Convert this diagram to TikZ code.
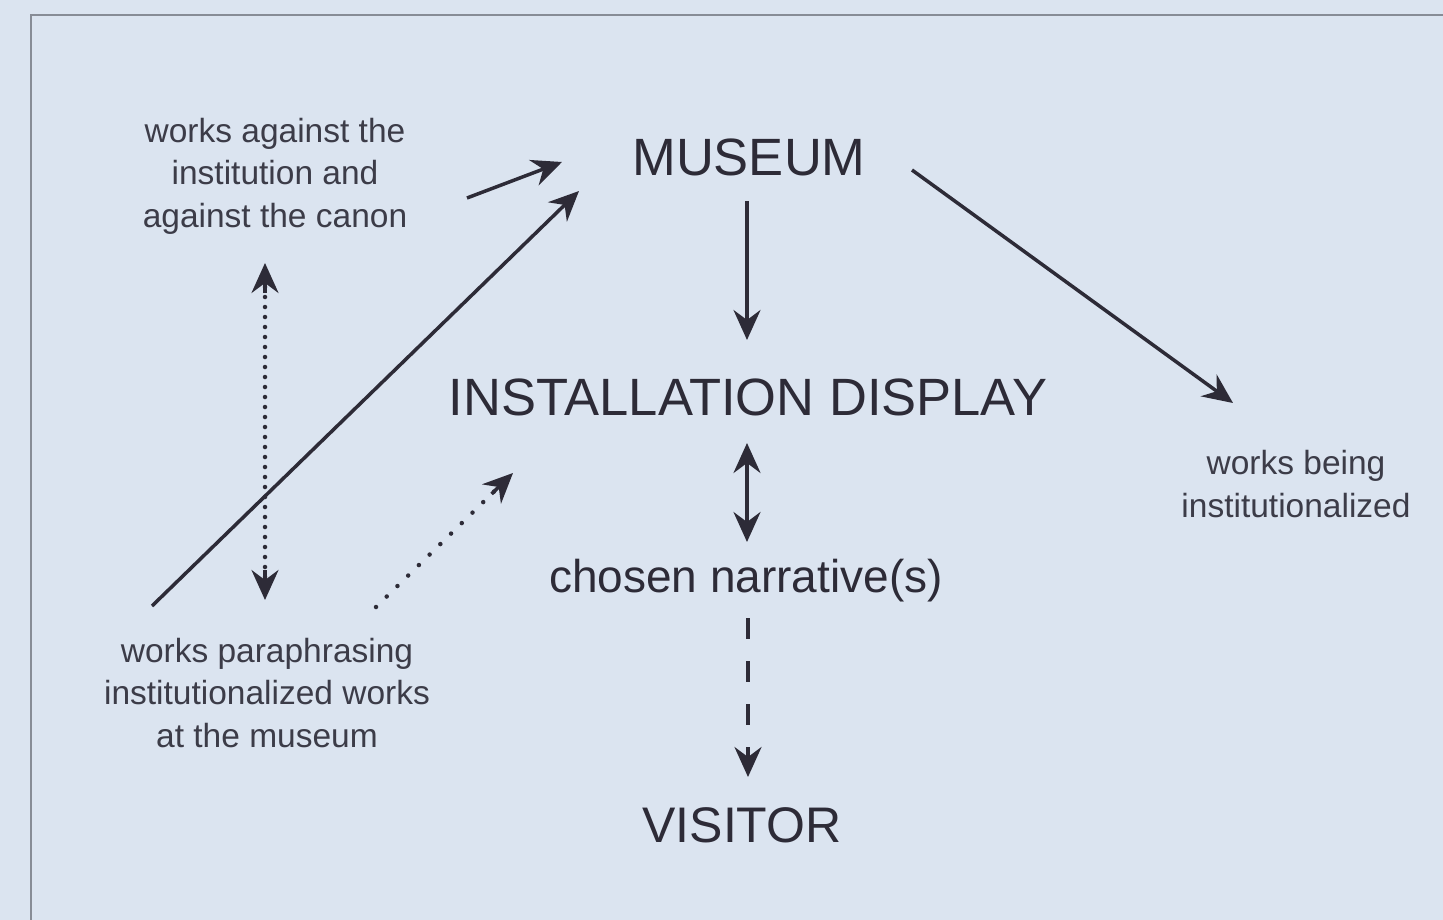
\documentclass[tikz,border=0pt]{standalone}
\usepackage{fontspec}
\setmainfont{Liberation Sans}
\usetikzlibrary{arrows.meta,calc}
\definecolor{bgblue}{RGB}{219,228,240}
\definecolor{frame}{RGB}{135,140,150}
\definecolor{ink}{RGB}{45,43,55}
\definecolor{smallink}{RGB}{60,60,72}
\tikzset{
  big/.style={text=ink, inner sep=0pt, font=\fontsize{52.5}{60}\selectfont},
  mid/.style={text=ink, inner sep=0pt, font=\fontsize{46}{52}\selectfont},
  small/.style={text=smallink, inner sep=0pt, align=center, font=\fontsize{33.5}{42.5}\selectfont},
  arr/.style={draw=ink, line width=3.5pt, -{Stealth[length=30pt, width=27pt, inset=10pt]}},
  darr/.style={draw=ink, line width=3.5pt, {Stealth[length=30pt, width=27pt, inset=10pt]}-{Stealth[length=30pt, width=27pt, inset=10pt]}},
  dotline/.style={draw=ink, line width=4.5pt, line cap=round, dash pattern=on 0pt off 10pt},
  dashline/.style={draw=ink, line width=3.5pt, dash pattern=on 21pt off 22pt},
}
\begin{document}
\begin{tikzpicture}[x=1pt, y=-1pt]
\fill[bgblue] (0,0) rectangle (1443,920);
\useasboundingbox (0,0) rectangle (1443,920);
\draw[frame, line width=2pt] (1450,15) -- (31,15) -- (31,930);

% nodes
\node[big] (museum) at (749,157) {MUSEUM};
\node[big] (install) at (748,397) {INSTALLATION DISPLAY};
\node[mid] (narr) at (746,581) {chosen narrative(s)};
\node[big, font=\fontsize{50}{60}\selectfont] (visitor) at (742,825) {VISITOR};
\node[small] (against) at (275,176) {works against the\\institution and\\against the canon};
\node[small] (being) at (1296,484) {works being\\institutionalized};
\node[small] (para) at (267,693) {works paraphrasing\\institutionalized works\\at the museum};

% endpoints
\coordinate (a1s) at (467,198); \coordinate (a1e) at (562,162);
\coordinate (a2s) at (152,606); \coordinate (a2e) at (579,191);
\coordinate (a3s) at (747,201); \coordinate (a3e) at (747,340);
\coordinate (a4s) at (912,170); \coordinate (a4e) at (1233,403);
\coordinate (a5s) at (747,443); \coordinate (a5e) at (747,542);
\coordinate (a6s) at (748,618); \coordinate (a6e) at (748,777);
\coordinate (a7s) at (265,263); \coordinate (a7e) at (265,600);
\coordinate (a8s) at (376,607); \coordinate (a8e) at (513,473);

% connectors
\draw[arr] (a1s) -- (a1e);
\draw[arr] (a2s) -- (a2e);
\draw[arr] (a3s) -- (a3e);
\draw[arr] (a4s) -- (a4e);
\draw[darr] (a5s) -- (a5e);
\draw[dashline] (a6s) -- ($(a6e)+(0,-35)$);
\draw[arr] ($(a6e)+(0,-30)$) -- (a6e);
\draw[dotline] ($(a7s)+(0,24)$) -- ($(a7e)+(0,-22)$);
\draw[arr] ($(a7s)+(0,30)$) -- (a7s);
\draw[arr] ($(a7e)+(0,-30)$) -- (a7e);
\draw[dotline, dash pattern=on 0pt off 15pt] (a8s) -- ($(a8e)!24pt!(a8s)$);
\draw[arr] ($(a8e)!30pt!(a8s)$) -- (a8e);
\end{tikzpicture}
\end{document}
